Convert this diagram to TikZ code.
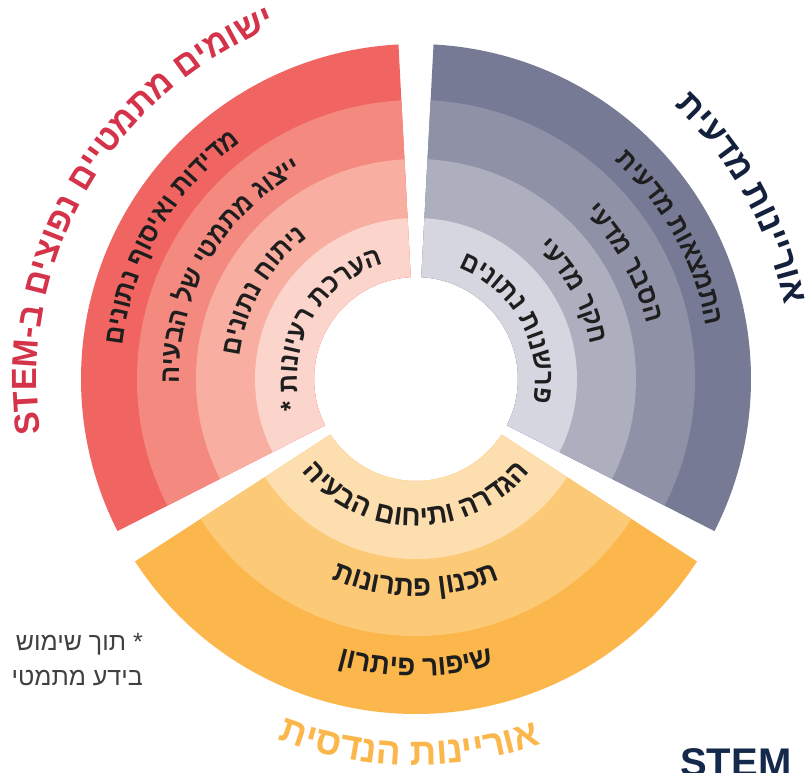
\documentclass[tikz,border=0pt]{standalone}
\usepackage{fontspec}
\setmainfont{Liberation Sans}
\newfontfamily\heb[Script=Hebrew]{Liberation Sans}
\newfontfamily\hebL[Script=Hebrew,FakeStretch=0.93]{Liberation Sans}
\newfontfamily\hebO[Script=Hebrew,FakeStretch=0.95]{Liberation Sans}
\newfontfamily\hebT[Script=Hebrew,FakeStretch=0.97]{Liberation Sans}
\usetikzlibrary{decorations.text}
\TeXXeTstate=1
\definecolor{rA}{HTML}{F06561}
\definecolor{rB}{HTML}{F48A7F}
\definecolor{rC}{HTML}{F9AEA2}
\definecolor{rD}{HTML}{FBD5CB}
\definecolor{gA}{HTML}{767A94}
\definecolor{gB}{HTML}{8F91A6}
\definecolor{gC}{HTML}{ADAFBE}
\definecolor{gD}{HTML}{D5D6DF}
\definecolor{oA}{HTML}{FBB74B}
\definecolor{oB}{HTML}{FCC977}
\definecolor{oC}{HTML}{FDDEAE}
\definecolor{redT}{HTML}{D4334A}
\definecolor{navyT}{HTML}{14213D}
\definecolor{orangeT}{HTML}{FBB74B}
\definecolor{labT}{HTML}{1E1E1E}
\definecolor{noteT}{HTML}{404040}
\definecolor{stemT}{HTML}{14294B}
\newcommand\labfont{\hebL\bfseries\fontsize{27}{27}\selectfont}
\newcommand\orgfont{\hebO\bfseries\fontsize{29}{29}\selectfont}
\newcommand\titfont{\hebT\bfseries\fontsize{35}{35}\selectfont}
\newcommand\otitfont{\hebT\bfseries\fontsize{38}{38}\selectfont}
% annular sector: #1 start angle, #2 end angle, #3 inner r, #4 outer r, #5 colour
\newcommand\band[5]{\fill[#5] (#1:#3) arc[start angle=#1, end angle=#2, radius=#3] -- (#2:#4) arc[start angle=#2, end angle=#1, radius=#4] -- cycle;}
% text with tops outward (clockwise path), text given in visual order
\newcommand\outtext[5]{\path[decorate, decoration={text along path, text align=center, text color=#3, text={|#4|#5}}] ({#1+70}:#2) arc[start angle={#1+70}, end angle={#1-70}, radius=#2];}
% text with tops inward (anticlockwise path)
\newcommand\intext[5]{\path[decorate, decoration={text along path, text align=center, text color=#3, text={|#4|#5}}] ({#1-70}:#2) arc[start angle={#1-70}, end angle={#1+70}, radius=#2];}
\begin{document}
\begin{tikzpicture}[x=1pt,y=1pt]
\clip (-416,-393) rectangle (393,379);
\fill[white] (-416,-393) rectangle (393,379);
% red sector
\band{93}{207}{102}{335}{rA}
\band{93}{207}{102}{279}{rB}
\band{93}{207}{102}{220}{rC}
\band{93}{207}{102}{161}{rD}
% grey sector
\band{-27}{87}{102}{335}{gA}
\band{-27}{87}{102}{279}{gB}
\band{-27}{87}{102}{220}{gC}
\band{-27}{87}{102}{161}{gD}
% orange sector
\band{213}{327}{102}{335}{oA}
\band{213}{327}{102}{257}{oB}
\band{213}{327}{102}{180}{oC}
% titles
\outtext{150}{379}{redT}{\titfont}{STEM-ב םיצופנ םייטמתמ םימושי}
\outtext{29}{376}{navyT}{\titfont}{תיעדמ תוניירוא}
\intext{269}{386}{orangeT}{\otitfont}{תיסדנה תוניירוא}
% red labels
\outtext{150}{295}{labT}{\labfont}{םינותנ ףוסיאו תודידמ}
\outtext{150}{237}{labT}{\labfont}{היעבה לש יטמתמ גוציי}
\outtext{150}{178}{labT}{\labfont}{םינותנ חותינ}
\outtext{150}{119}{labT}{\labfont}{* תונויער תכרעה}
% grey labels
\outtext{29}{295}{labT}{\labfont}{תיעדמ תואצמתה}
\outtext{29}{237}{labT}{\labfont}{יעדמ רבסה}
\outtext{29}{178}{labT}{\labfont}{יעדמ רקח}
\outtext{29}{119}{labT}{\labfont}{םינותנ תונשרפ}
% orange labels
\intext{270}{147}{labT}{\orgfont}{היעבה םוחיתו הרדגה}
\intext{270}{217}{labT}{\orgfont}{תונורתפ ןונכת}
\intext{270}{297}{labT}{\orgfont}{ןורתיפ רופיש}
% footnote
\node[anchor=base east, inner sep=0, text=noteT, font=\heb\fontsize{25}{25}\selectfont] (note1) at (-273,-271) {\beginR * תוך שימוש\endR};
\node[anchor=base east, inner sep=0, text=noteT, font=\heb\fontsize{25}{25}\selectfont] (note2) at (-273,-306) {\beginR בידע מתמטי\endR};
% cropped logo text
\node[anchor=north west, inner sep=0, text=stemT, font=\bfseries\fontsize{40}{40}\selectfont] (stem) at (264,-369) {STEM};
\end{tikzpicture}
\end{document}
